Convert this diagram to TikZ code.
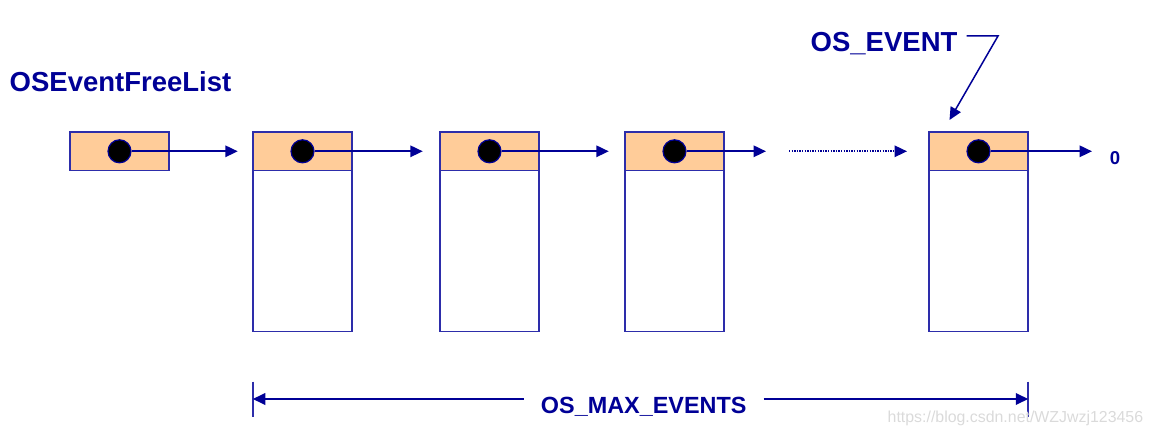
\documentclass[tikz,border=0pt]{standalone}
\usepackage{fontspec}
\setmainfont{Liberation Sans}
\usetikzlibrary{arrows.meta,calc}
\definecolor{osblue}{RGB}{0,0,150}
\definecolor{osline}{RGB}{45,45,170}
\definecolor{ospeach}{RGB}{255,204,153}
\definecolor{osmark}{RGB}{218,218,218}

\begin{document}
\begin{tikzpicture}[x=1pt,y=-1pt,
  cell/.style={draw=osline,fill=ospeach,line width=1.9pt,minimum width=99.5pt,minimum height=38.5pt,inner sep=0pt,outer sep=0pt},
  body/.style={draw=osline,fill=white,line width=1.9pt,minimum width=99.5pt,minimum height=161pt,inner sep=0pt,outer sep=0pt,anchor=north},
  dot/.style={circle,draw=osblue,fill=black,line width=1.2pt,minimum size=23pt,inner sep=0pt},
  link/.style={draw=osblue,line width=1.8pt,-{Triangle[length=12.5pt,width=11.5pt]}},
  wire/.style={draw=osline,line width=2pt},
  title/.style={text=osblue,font=\fontsize{27.5}{30}\selectfont\bfseries,inner sep=0pt,anchor=base west}]
  \useasboundingbox (0,0) rectangle (1153,435);
  \node[title] (freelist) at (9.5,91.7) {OSEventFreeList};
  \node[title] (osevent) at (810.5,51.7) {OS\_EVENT};
  \node[cell] (e0) at (119.5,151.3) {};
  \node[cell] (e1) at (302.5,151.3) {};
  \node[body] (b1) at (e1.south) {};
  \node[cell] (e2) at (489.5,151.3) {};
  \node[body] (b2) at (e2.south) {};
  \node[cell] (e3) at (674.5,151.3) {};
  \node[body] (b3) at (e3.south) {};
  \node[cell] (e4) at (978.5,151.3) {};
  \node[body] (b4) at (e4.south) {};
  \node[dot] (d0) at (e0.center) {};
  \node[dot] (d1) at (e1.center) {};
  \node[dot] (d2) at (e2.center) {};
  \node[dot] (d3) at (e3.center) {};
  \node[dot] (d4) at (e4.center) {};
  \coordinate (gap1) at (766,151.3);
  \coordinate (gap2) at (789,151.3);
  \coordinate (gap3) at (907,151.3);
  \coordinate (end) at (1092,151.3);
  \node[text=osblue,font=\fontsize{18.6}{20}\selectfont\bfseries,inner sep=0pt,anchor=base] (nil) at (1115,165) {0};
  \draw[link] (d0.east) -- ($(e1.west)+(-15,0)$);
  \draw[link] (d1.east) -- ($(e2.west)+(-17,0)$);
  \draw[link] (d2.east) -- ($(e3.west)+(-16,0)$);
  \draw[link] (d3.east) -- (gap1);
  \draw[link,line width=1.6pt,dash pattern=on 1.4pt off 1.2pt] (gap2) -- (gap3);
  \draw[link] (d4.east) -- (end);
  \coordinate (bend) at (998,36);
  \coordinate (ptr) at (949.5,120);
  \draw[link,line width=1.5pt] (osevent.east |- bend) ++(9,0) -- (bend) -- (ptr);
  \node[text=osblue,font=\fontsize{23.4}{26}\selectfont\bfseries,inner xsep=17pt,inner ysep=0pt,anchor=base] (maxev) at (643.7,413.3) {OS\_MAX\_EVENTS};
  \coordinate (lo) at (252.75,399);
  \coordinate (ro) at (1028.25,399);
  \draw[wire] (252.75,381.7) -- (252.75,416.7);
  \draw[wire] (1028.25,381.7) -- (1028.25,416.7);
  \draw[link] (maxev.west |- lo) -- (lo);
  \draw[link] (maxev.east |- ro) -- (ro);
  \node[text=osmark,font=\fontsize{15.9}{18}\selectfont,inner sep=0pt,anchor=base west] (mark) at (887.5,422) {https://blog.csdn.net/WZJwzj123456};
\end{tikzpicture}
\end{document}
